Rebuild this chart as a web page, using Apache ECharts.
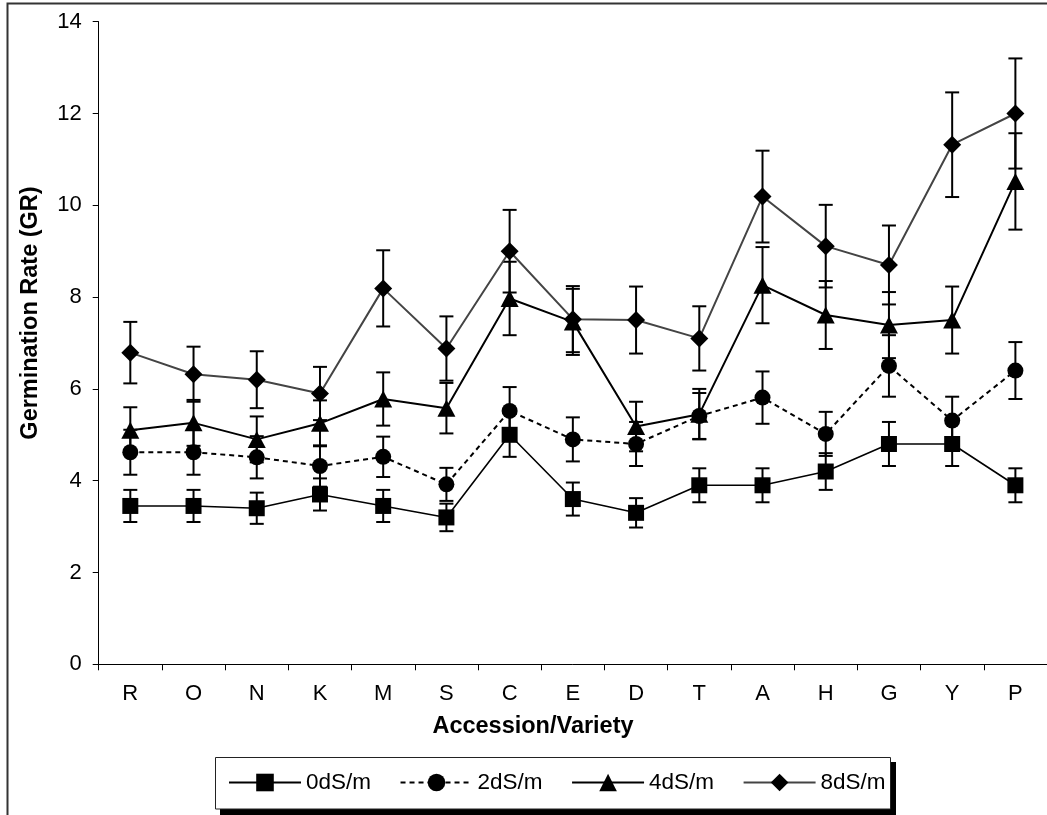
<!DOCTYPE html>
<html>
<head>
<meta charset="utf-8">
<script src="https://cdn.jsdelivr.net/npm/echarts@6/dist/echarts.min.js"></script>
<style>
html,body{margin:0;padding:0;background:#fff;}
#chart{width:1047px;height:815px;}
</style>
</head>
<body>
<div id="chart"></div>
<script>
const categories = ['R','O','N','K','M','S','C','E','D','T','A','H','G','Y','P'];
const seriesNames = ['0dS/m','2dS/m','4dS/m','8dS/m'];
const gr0 = [3.45,3.45,3.4,3.7,3.45,3.2,5.0,3.6,3.3,3.9,3.9,4.2,4.8,4.8,3.9];
const err0 = [0.35,0.35,0.34,0.35,0.35,0.3,0.48,0.36,0.32,0.37,0.37,0.4,0.48,0.48,0.37];
const gr2 = [4.62,4.62,4.51,4.32,4.52,3.92,5.52,4.9,4.8,5.41,5.81,5.02,6.5,5.31,6.4];
const err2 = [0.49,0.49,0.46,0.45,0.44,0.36,0.52,0.48,0.48,0.5,0.57,0.48,0.67,0.52,0.62];
const gr4 = [5.1,5.26,4.9,5.25,5.78,5.58,7.97,7.46,5.18,5.45,8.26,7.61,7.39,7.5,10.52];
const err4 = [0.5,0.5,0.5,0.5,0.58,0.55,0.8,0.72,0.54,0.55,0.83,0.74,0.72,0.73,1.05];
const gr8 = [6.79,6.32,6.2,5.9,8.19,6.88,9.0,7.52,7.5,7.1,10.19,9.11,8.7,11.32,12.0];
const err8 = [0.67,0.6,0.62,0.58,0.83,0.7,0.9,0.72,0.73,0.7,1.0,0.9,0.86,1.14,1.2];
const yTicks = [0,2,4,6,8,10,12,14];

const FONT = '"Liberation Sans", Arial, sans-serif';

function errRender(params, api) {
  const x = api.value(0), v = api.value(1), e = api.value(2);
  const top = api.coord([x, v + e]);
  const bot = api.coord([x, v - e]);
  const hw = 7;
  const st = {stroke:'#000', lineWidth:2};
  return {type:'group', children:[
    {type:'line', shape:{x1:top[0],y1:top[1],x2:bot[0],y2:bot[1]}, style:st},
    {type:'line', shape:{x1:top[0]-hw,y1:top[1],x2:top[0]+hw,y2:top[1]}, style:st},
    {type:'line', shape:{x1:bot[0]-hw,y1:bot[1],x2:bot[0]+hw,y2:bot[1]}, style:st}
  ]};
}
function errData(vals, errs){ return vals.map((v,i)=>[i,v,errs[i]]); }

const chart = echarts.init(document.getElementById('chart'), null, {renderer:'canvas'});
const option = {
  animation:false,
  backgroundColor:'#fff',
  grid:{left:98.7, top:21.7, width:960.5, height:642.6, containLabel:false},
  xAxis:{
    type:'category', data:categories, boundaryGap:true,
    axisLine:{lineStyle:{color:'#000', width:1}},
    axisTick:{show:true, alignWithLabel:false, length:6, lineStyle:{color:'#000'}},
    axisLabel:{color:'#000', fontSize:22, fontFamily:FONT, margin:19, interval:0},
    splitLine:{show:false}
  },
  yAxis:{
    type:'value', min:0, max:14, interval:2,
    axisLine:{show:true, lineStyle:{color:'#000', width:1}},
    axisTick:{show:true, length:6, lineStyle:{color:'#000'}},
    axisLabel:{color:'#000', fontSize:22, fontFamily:FONT, margin:17,
      formatter:(v)=> yTicks.includes(v) ? String(v) : ''},
    splitLine:{show:false}
  },
  legend:{
    data:seriesNames, left:215, top:757, orient:'horizontal',
    padding:[14,12,14,13], itemWidth:72, itemHeight:22, itemGap:28.5,
    textStyle:{color:'#000', fontSize:22.5, fontFamily:FONT},
    z:10
  },
  graphic:[
    {type:'rect', z:-1, shape:{x:7.5,y:3.5,width:2000,height:2000}, style:{fill:'none', stroke:'#333', lineWidth:2}},
    {type:'rect', z:0, shape:{x:220,y:762,width:676,height:60}, style:{fill:'#000'}},
    {type:'rect', z:1, shape:{x:215.5,y:757.5,width:675,height:51.5}, style:{fill:'#fff', stroke:'#222', lineWidth:1}},
    {type:'text', z:5, x:533, y:727, style:{text:'Accession/Variety', font:'bold 23.5px '+FONT, fill:'#000',
      align:'center', verticalAlign:'middle', textAlign:'center', textVerticalAlign:'middle'}},
    {type:'text', z:5, x:31, y:313, rotation:Math.PI/2, style:{text:'Germination Rate (GR)', font:'bold 23.5px '+FONT, fill:'#000',
      align:'center', verticalAlign:'middle', textAlign:'center', textVerticalAlign:'middle'}}
  ],
  series:[
    {type:'custom', name:'err0', renderItem:errRender, data:errData(gr0,err0), z:3, silent:true},
    {type:'custom', name:'err2', renderItem:errRender, data:errData(gr2,err2), z:3, silent:true},
    {type:'custom', name:'err4', renderItem:errRender, data:errData(gr4,err4), z:3, silent:true},
    {type:'custom', name:'err8', renderItem:errRender, data:errData(gr8,err8), z:3, silent:true},
    {type:'line', name:'0dS/m', data:gr0, symbol:'rect', symbolSize:16,
      lineStyle:{color:'#000', width:1.6}, itemStyle:{color:'#000'}, z:4},
    {type:'line', name:'2dS/m', data:gr2, symbol:'circle', symbolSize:16,
      lineStyle:{color:'#000', width:2, type:[5,4]}, itemStyle:{color:'#000'}, z:4},
    {type:'line', name:'4dS/m', data:gr4, symbol:'triangle', symbolSize:[18,17],
      lineStyle:{color:'#000', width:2}, itemStyle:{color:'#000'}, z:4},
    {type:'line', name:'8dS/m', data:gr8, symbol:'diamond', symbolSize:18,
      lineStyle:{color:'#444', width:2}, itemStyle:{color:'#000'}, z:4}
  ]
};
chart.setOption(option);
</script>
</body>
</html>
